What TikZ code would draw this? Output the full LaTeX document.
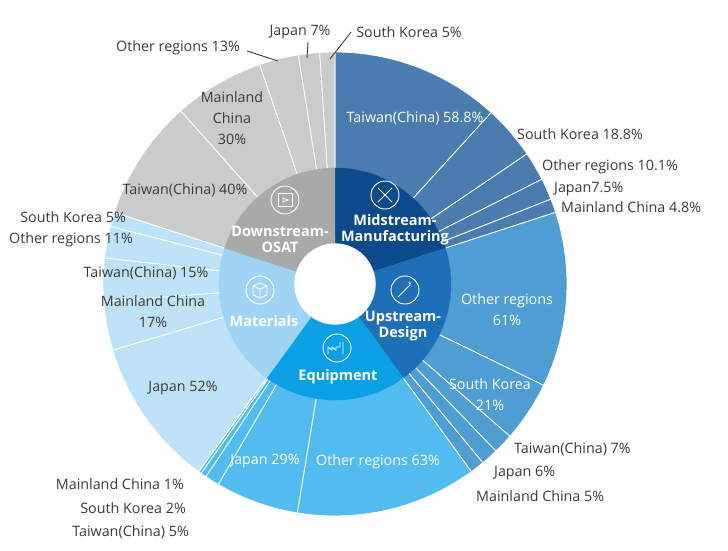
\documentclass[tikz,border=0pt]{standalone}
\usepackage{fontspec}
\setmainfont{Open Sans}
\usetikzlibrary{positioning}
\definecolor{midin}{HTML}{0D4A8C}
\definecolor{midout}{HTML}{4B7CB0}
\definecolor{upin}{HTML}{1F6FB8}
\definecolor{upout}{HTML}{4F9ED3}
\definecolor{eqin}{HTML}{0BA0E6}
\definecolor{eqout}{HTML}{52BBF0}
\definecolor{matin}{HTML}{9FD4F4}
\definecolor{matout}{HTML}{BEE3F8}
\definecolor{downin}{HTML}{A9A9A9}
\definecolor{downout}{HTML}{CACBCB}
\definecolor{txt}{HTML}{3A3A3A}
\newcommand{\ringseg}[5]{%
  \filldraw[#5] (#1:#3) arc[start angle=#1,end angle=#2,radius=#3]
    -- (#2:#4) arc[start angle=#2,end angle=#1,radius=#4] -- cycle;}
\tikzset{
  outseg/.style={draw=white,line width=0.8pt},
  inlab/.style={text=white,font=\bfseries\fontsize{14.5}{16}\selectfont,align=center,inner sep=1pt},
  wlab/.style={text=white,font=\fontsize{14.3}{21}\selectfont,align=center,inner sep=1pt},
  dlab/.style={text=txt,font=\fontsize{14.3}{21}\selectfont,align=center,inner sep=1pt},
  icon/.style={draw=white,line width=0.9pt},
  leader/.style={draw=txt,line width=0.9pt}
}
\begin{document}
\begin{tikzpicture}[x=1pt,y=1pt]
  \useasboundingbox (-335,-266) rectangle (393,284);
  % outer ring
  \foreach \a/\b in {90/47.66,47.66/34.12,34.12/26.85,26.85/21.45,21.45/18}
    {\ringseg{\a}{\b}{114}{232}{midout,outseg}}
  \foreach \a/\b in {18/-25.92,-25.92/-41.04,-41.04/-46.08,-46.08/-50.4,-50.4/-54}
    {\ringseg{\a}{\b}{114}{232}{upout,outseg}}
  \foreach \a/\b in {-54/-99.36,-99.36/-120.24,-120.24/-123.84,-123.84/-125.28,-125.28/-126}
    {\ringseg{\a}{\b}{114}{232}{eqout,outseg}}
  \foreach \a/\b in {-126/-163.44,-163.44/-175.68,-175.68/-186.48,-186.48/-194.4,-194.4/-198}
    {\ringseg{\a}{\b}{114}{232}{matout,outseg}}
  \foreach \a/\b in {162/131.68,131.68/108.94,108.94/99.09,99.09/93.78,93.78/90}
    {\ringseg{\a}{\b}{114}{232}{downout,outseg}}
  % inner ring
  \ringseg{18}{90}{41}{116}{midin}
  \ringseg{-54}{18}{41}{116}{upin}
  \ringseg{-126}{-54}{41}{116}{eqin}
  \ringseg{162}{234}{41}{116}{matin}
  \ringseg{90}{162}{41}{116}{downin}
  % icons
  \begin{scope}[icon]
    \draw (50,89) circle (14);
    \draw (43,82) -- (57,96) (43,96) -- (57,82);
    \draw (70,-6) circle (14);
    \draw (63,-13) -- (73,-3) (75,-1) -- (73,-3);
    \node[text=white,font=\fontsize{8}{8}\selectfont] at (75,0) {$\star$};
    \draw (2,-64) circle (14);
    \draw (-7,-70) -- (-7,-63) -- (-3,-66) -- (-3,-63) -- (1,-66) -- (1,-63) -- (5,-63) -- (5,-58) (8,-58) -- (8,-70) -- cycle;
    \draw (-75,-6) circle (14);
    \draw (-82,-2) -- (-75,1) -- (-68,-2) -- (-68,-11) -- (-75,-14) -- (-82,-11) -- cycle (-82,-2) -- (-75,-5) -- (-68,-2) (-75,-5) -- (-75,-14);
    \draw (-50,84) circle (14);
    \draw (-57,78) rectangle (-43,91);
    \draw (-52,86) -- (-47,84) -- (-52,82) -- cycle;
  \end{scope}
  % inner labels
  \node[inlab] (mid) at (60,54) {Midstream-\\Manufacturing};
  \node[inlab] (up) at (68,-42) {Upstream-\\Design};
  \node[inlab] (eq) at (3,-93) {Equipment};
  \node[inlab] (mat) at (-71,-37) {Materials};
  \node[inlab] (down) at (-55,45) {Downstream-\\OSAT};
  % outer labels, white
  \node[wlab] (mtw) at (80,166) {Taiwan(China) 58.8\%};
  \node[wlab] (uot) at (172,-26) {Other regions\\61\%};
  \node[wlab] (usk) at (155,-111) {South Korea\\21\%};
  \node[wlab] (eot) at (43,-178) {Other regions 63\%};
  \node[wlab] (ejp) at (-70,-177) {Japan 29\%};
  % outer labels, dark
  \node[dlab] (mjp) at (-152,-104) {Japan 52\%};
  \node[dlab] (mmc) at (-182,-28) {Mainland China\\17\%};
  \node[dlab] (mtw2) at (-189,11) {Taiwan(China) 15\%};
  \node[dlab,anchor=east] (mot) at (-201,44) {Other regions 11\%};
  \node[dlab,anchor=east] (msk) at (-208,67) {South Korea 5\%};
  \node[dlab] (dtw) at (-150,94) {Taiwan(China) 40\%};
  \node[dlab] (dmc) at (-103,166) {Mainland\\China\\30\%};
  \node[dlab] (dot) at (-157,236) {Other regions 13\%};
  \node[dlab] (djp) at (-35,252) {Japan 7\%};
  \node[dlab] (dsk) at (74,252) {South Korea 5\%};
  \node[dlab,anchor=west] (msk2) at (181,150) {South Korea 18.8\%};
  \node[dlab,anchor=west] (mot2) at (206,117) {Other regions 10.1\%};
  \node[dlab,anchor=west] (mjp2) at (218,95) {Japan7.5\%};
  \node[dlab,anchor=west] (mmc2) at (225,77) {Mainland China 4.8\%};
  \node[dlab,anchor=west] (utw) at (178,-165) {Taiwan(China) 7\%};
  \node[dlab,anchor=west] (ujp) at (158,-189) {Japan 6\%};
  \node[dlab,anchor=west] (umc) at (140,-212) {Mainland China 5\%};
  \node[dlab,anchor=east] (emc) at (-150,-200) {Mainland China 1\%};
  \node[dlab,anchor=east] (esk) at (-148,-224) {South Korea 2\%};
  \node[dlab,anchor=east] (etw) at (-145,-248) {Taiwan(China) 5\%};
  % leaders
  \coordinate (dotend) at (-57,223);
  \coordinate (djpend) at (-28,226);
  \coordinate (dskend) at (-5,225);
  \draw[leader] (dot.east) ++(6,-3) -- (dotend);
  \draw[leader] (djp.south) ++(8,-2) -- (djpend);
  \draw[leader] (dsk.west) ++(-4,0) -- (dskend);
\end{tikzpicture}
\end{document}
